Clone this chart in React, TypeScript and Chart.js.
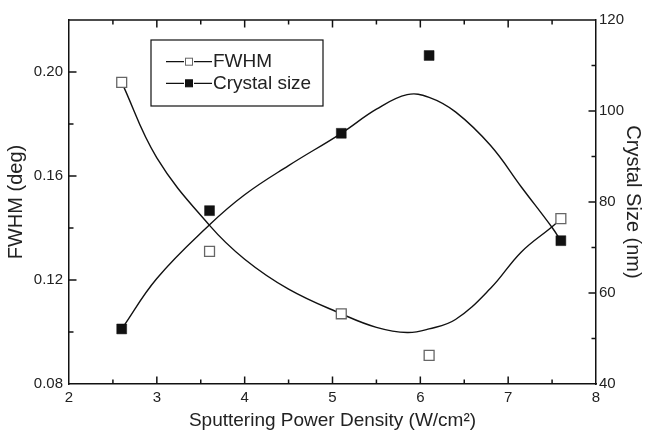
import React, { useEffect, useRef } from "react";
import { Chart, registerables } from "chart.js";

Chart.register(...registerables);

// ---- data ----
const powerDensity = [2.6, 3.6, 5.1, 6.1, 7.6];
const fwhm = [0.196, 0.131, 0.107, 0.091, 0.1436];
const crystalSize = [52.1, 78.1, 95.1, 112.2, 71.5];

// smooth fit curves
const fitX = [2.6, 3.0, 3.6, 4.0, 4.5, 5.1, 5.5, 5.85, 6.1, 6.4, 6.8, 7.15, 7.5, 7.6];
const fwhmFit = [0.196, 0.167, 0.141, 0.128, 0.1165, 0.107, 0.1018, 0.0998, 0.1012, 0.1048, 0.1168, 0.1308, 0.1405, 0.1436];
const crystalFit = [52.1, 63.2, 75.0, 81.6, 88.0, 95.1, 100.4, 103.6, 103.0, 99.8, 92.4, 83.3, 74.4, 71.5];

const xMajorTicks = [2, 3, 4, 5, 6, 7, 8];
const xMinorTicks = [2.5, 3.5, 4.5, 5.5, 6.5, 7.5];
const fwhmMajorTicks = [0.08, 0.12, 0.16, 0.2];
const fwhmMinorTicks = [0.1, 0.14, 0.18];
const sizeMajorTicks = [40, 60, 80, 100, 120];
const sizeMinorTicks = [50, 70, 90, 110];

const seriesNames = ["FWHM", "Crystal size"];

const FONT = "'Liberation Sans', Arial, Helvetica, sans-serif";
const INK = "#111";
const TEXT = "#222";

const frameTicks = {
  id: "frameTicks",
  afterDraw(chart: any) {
    const { ctx, chartArea: a, scales } = chart;
    ctx.save();
    ctx.strokeStyle = INK;
    const seg = (x1: number, y1: number, x2: number, y2: number) => {
      ctx.beginPath();
      ctx.moveTo(x1, y1);
      ctx.lineTo(x2, y2);
      ctx.stroke();
    };
    ctx.lineWidth = 1.5;
    seg(a.left, a.top, a.right, a.top);
    ctx.lineWidth = 1.5;
    const xt = (vals: number[], len: number) =>
      vals.forEach((v) => {
        const p = scales.x.getPixelForValue(v);
        seg(p, a.bottom, p, a.bottom - len);
        seg(p, a.top, p, a.top + len);
      });
    xt(xMajorTicks.slice(1, -1), 7.5);
    xt(xMinorTicks, 4.5);
    const yl = (vals: number[], len: number) =>
      vals.forEach((v) => {
        const p = scales.y.getPixelForValue(v);
        seg(a.left, p, a.left + len, p);
      });
    yl(fwhmMajorTicks.slice(1), 7.5);
    yl(fwhmMinorTicks, 4.5);
    const yr = (vals: number[], len: number) =>
      vals.forEach((v) => {
        const p = scales.y1.getPixelForValue(v);
        seg(a.right, p, a.right - len, p);
      });
    yr(sizeMajorTicks.slice(1, -1), 7.5);
    yr(sizeMinorTicks, 4.5);
    ctx.restore();
  },
};

const boxLegend = {
  id: "boxLegend",
  afterDraw(chart: any) {
    const { ctx, chartArea: a } = chart;
    const ds = chart.data.datasets;
    const bx = a.left + 82;
    const by = a.top + 20;
    const bw = 172;
    const bh = 66;
    ctx.save();
    ctx.fillStyle = "#fff";
    ctx.fillRect(bx, by, bw, bh);
    ctx.strokeStyle = INK;
    ctx.lineWidth = 1.2;
    ctx.strokeRect(bx, by, bw, bh);
    const rows = [by + 21.7, by + 43.3];
    [0, 1].forEach((i) => {
      const y = rows[i];
      const d = ds[i];
      ctx.strokeStyle = INK;
      ctx.lineWidth = 1.2;
      ctx.beginPath();
      ctx.moveTo(bx + 15, y);
      ctx.lineTo(bx + 33, y);
      ctx.moveTo(bx + 43, y);
      ctx.lineTo(bx + 61, y);
      ctx.stroke();
      ctx.fillStyle = d.backgroundColor;
      ctx.strokeStyle = d.borderColor;
      ctx.lineWidth = 1;
      ctx.fillRect(bx + 34.5, y - 3.5, 7, 7);
      ctx.strokeRect(bx + 34.5, y - 3.5, 7, 7);
      ctx.fillStyle = TEXT;
      ctx.font = `19px ${FONT}`;
      ctx.textBaseline = "middle";
      ctx.textAlign = "left";
      ctx.fillText(d.label, bx + 62, y + 0.5);
    });
    ctx.restore();
  },
};

export default function App() {
  const ref = useRef<HTMLCanvasElement | null>(null);
  useEffect(() => {
    if (!ref.current) return;
    const chart = new Chart(ref.current, {
      type: "scatter",
      data: {
        datasets: [
          {
            label: seriesNames[0],
            data: powerDensity.map((x, i) => ({ x, y: fwhm[i] })),
            yAxisID: "y",
            showLine: false,
            pointStyle: "rect",
            pointRadius: 7,
            backgroundColor: "#fff",
            borderColor: "#666",
            borderWidth: 1.3,
          },
          {
            label: seriesNames[1],
            data: powerDensity.map((x, i) => ({ x, y: crystalSize[i] })),
            yAxisID: "y1",
            showLine: false,
            pointStyle: "rect",
            pointRadius: 7,
            backgroundColor: INK,
            borderColor: INK,
            borderWidth: 0.5,
          },
          {
            label: "FWHM fit",
            data: fitX.map((x, i) => ({ x, y: fwhmFit[i] })),
            yAxisID: "y",
            showLine: true,
            pointRadius: 0,
            borderColor: INK,
            borderWidth: 1.4,
            tension: 0.4,
            fill: false,
          },
          {
            label: "Crystal size fit",
            data: fitX.map((x, i) => ({ x, y: crystalFit[i] })),
            yAxisID: "y1",
            showLine: true,
            pointRadius: 0,
            borderColor: INK,
            borderWidth: 1.4,
            tension: 0.4,
            fill: false,
          },
        ],
      },
      options: {
        animation: false,
        responsive: false,
        layout: { padding: { top: 20, left: 0, right: 0, bottom: 0 } },
        plugins: { legend: { display: false }, tooltip: { enabled: false } },
        scales: {
          x: {
            type: "linear",
            position: "bottom",
            min: 2,
            max: 8,
            afterBuildTicks: (s: any) => {
              s.ticks = xMajorTicks.map((v) => ({ value: v }));
            },
            afterFit: (s: any) => {
              s.height = 47;
            },
            grid: { display: true, drawOnChartArea: false, drawTicks: false },
            border: { display: true, color: INK, width: 1.5 },
            ticks: {
              padding: 5,
              color: TEXT,
              font: { family: FONT, size: 15 },
              callback: (v: any) => String(v),
            },
            title: {
              display: true,
              text: "Sputtering Power Density (W/cm²)",
              color: TEXT,
              font: { family: FONT, size: 19, lineHeight: 1 },
              padding: { top: 0, bottom: 1 },
            },
          },
          y: {
            type: "linear",
            position: "left",
            min: 0.08,
            max: 0.22,
            afterBuildTicks: (s: any) => {
              s.ticks = fwhmMajorTicks.map((v) => ({ value: v }));
            },
            afterFit: (s: any) => {
              s.width = 69;
            },
            grid: { display: true, drawOnChartArea: false, drawTicks: false },
            border: { display: true, color: INK, width: 1.5 },
            ticks: {
              padding: 6,
              color: TEXT,
              font: { family: FONT, size: 15 },
              callback: (v: any) => Number(v).toFixed(2),
            },
            title: {
              display: true,
              text: "FWHM (deg)",
              color: TEXT,
              font: { family: FONT, size: 20, lineHeight: 1 },
              padding: { top: 6.5, bottom: 0 },
            },
          },
          y1: {
            type: "linear",
            position: "right",
            min: 40,
            max: 120,
            afterBuildTicks: (s: any) => {
              s.ticks = sizeMajorTicks.map((v) => ({ value: v }));
            },
            afterFit: (s: any) => {
              s.width = 50;
            },
            grid: { display: true, drawOnChartArea: false, drawTicks: false },
            border: { display: true, color: INK, width: 1.5 },
            ticks: {
              padding: 3,
              color: TEXT,
              font: { family: FONT, size: 15 },
              callback: (v: any) => String(v),
            },
            title: {
              display: true,
              text: "Crystal Size (nm)",
              color: TEXT,
              font: { family: FONT, size: 20, lineHeight: 1 },
              padding: { top: 3, bottom: 0 },
            },
          },
        },
      },
      plugins: [frameTicks, boxLegend],
    } as any);
    return () => chart.destroy();
  }, []);
  return (
    <div style={{ position: "absolute", left: 0, top: 0, width: 646, height: 431, background: "#fff" }}>
      <canvas ref={ref} width={646} height={431} />
    </div>
  );
}
